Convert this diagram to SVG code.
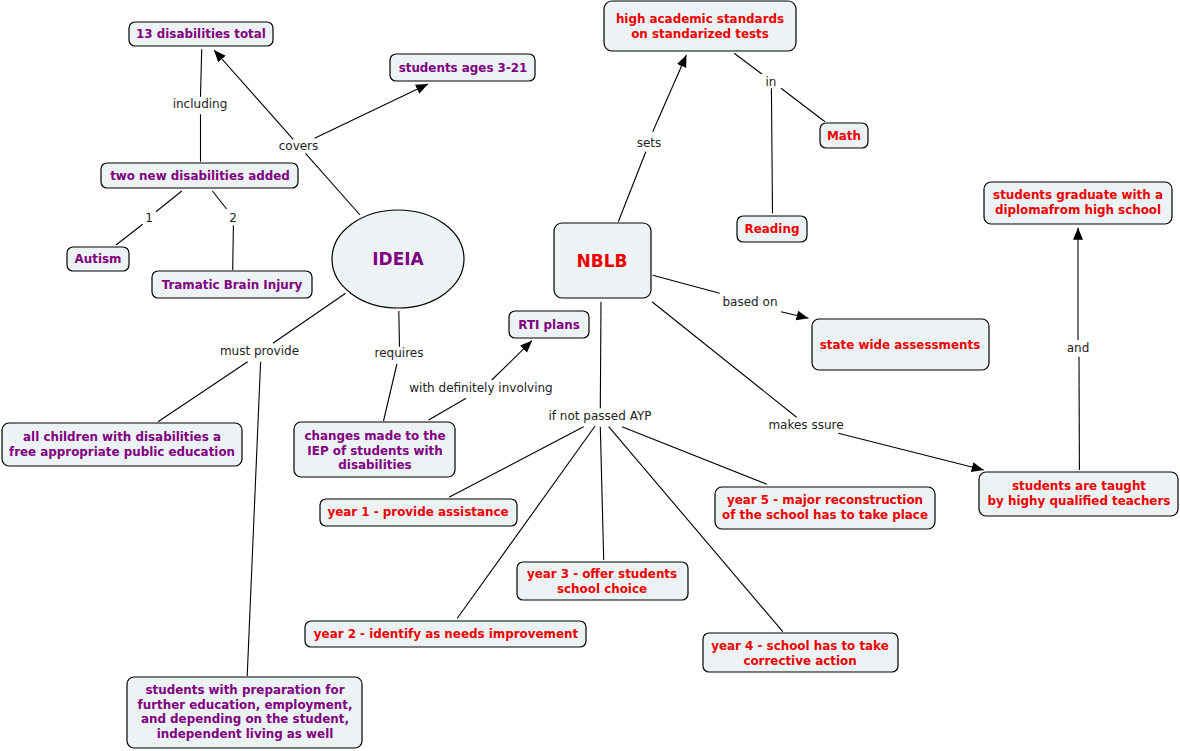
<svg xmlns="http://www.w3.org/2000/svg" width="1180" height="751" viewBox="0 0 1180 751">
<defs>
<style>
.n{fill:#edf3f5;stroke:#000;stroke-width:1.2}
.t{font-family:"DejaVu Sans",Verdana,sans-serif;font-weight:bold;font-size:11.9px;text-anchor:middle;dominant-baseline:central}
.p{fill:#800080}
.r{fill:#ee0000}
.big{font-size:17px}
.l{font-family:"DejaVu Sans",Verdana,sans-serif;font-size:12px;fill:#222;text-anchor:middle;dominant-baseline:central}
.c line{stroke:#000;stroke-width:1.1}
.a{marker-end:url(#arr)}
</style>
<marker id="arr" markerUnits="userSpaceOnUse" markerWidth="13" markerHeight="11" refX="12" refY="5" orient="auto">
<path d="M0,0 L12,5 L0,10 z" fill="#000"/>
</marker>
</defs>
<rect width="1180" height="751" fill="#fff"/>
<g id="connectors" class="c">
<line x1="360" y1="215" x2="305.5" y2="153.3"/>
<line class="a" x1="293.2" y1="139.3" x2="214" y2="50"/>
<line class="a" x1="314.6" y1="138.3" x2="428" y2="84"/>
<line x1="201.7" y1="49.3" x2="200.5" y2="96.7"/>
<line x1="200.5" y1="114.3" x2="200.5" y2="161.7"/>
<line x1="181.8" y1="191" x2="156" y2="211.7"/>
<line x1="142.7" y1="224.3" x2="116" y2="245"/>
<line x1="212.4" y1="191" x2="226.6" y2="209"/>
<line x1="233.4" y1="225.3" x2="232.7" y2="270"/>
<line x1="618.3" y1="221.7" x2="645.8" y2="151.7"/>
<line class="a" x1="652.7" y1="131.7" x2="686.4" y2="55"/>
<line x1="734.2" y1="53.3" x2="761.8" y2="74"/>
<line x1="781" y1="88.3" x2="825" y2="121.7"/>
<line x1="771.4" y1="88.3" x2="772.5" y2="213.3"/>
<line x1="652.7" y1="275.3" x2="719.7" y2="293.3"/>
<line class="a" x1="781" y1="311.7" x2="808.5" y2="318.3"/>
<line x1="652" y1="301.7" x2="796.6" y2="417.3"/>
<line class="a" x1="838.3" y1="433.3" x2="983.7" y2="470"/>
<line x1="1079.4" y1="470" x2="1079" y2="356.7"/>
<line class="a" x1="1078" y1="340" x2="1078" y2="227.7"/>
<line x1="601" y1="301.7" x2="600.3" y2="408.3"/>
<line x1="622" y1="426.7" x2="766.8" y2="484.3"/>
<line x1="608.7" y1="426.7" x2="782.8" y2="631.7"/>
<line x1="600.3" y1="426.7" x2="603.7" y2="560"/>
<line x1="583.6" y1="426.7" x2="449" y2="497.3"/>
<line x1="595.1" y1="426" x2="457.3" y2="618.3"/>
<line x1="345.6" y1="293.3" x2="272.9" y2="343.3"/>
<line x1="247.6" y1="361.7" x2="158" y2="421.7"/>
<line x1="260.6" y1="361.7" x2="247.2" y2="676"/>
<line x1="398.8" y1="311" x2="399.5" y2="346.7"/>
<line x1="396.9" y1="364" x2="383.5" y2="421"/>
<line x1="428.6" y1="420" x2="466.1" y2="398.3"/>
<line class="a" x1="491.8" y1="380" x2="532" y2="340.7"/>
<text class="l" x="200" y="104">including</text>
<text class="l" x="298.5" y="145.7">covers</text>
<text class="l" x="149" y="217.7">1</text>
<text class="l" x="233" y="217.7">2</text>
<text class="l" x="649" y="143.3">sets</text>
<text class="l" x="771" y="81.7">in</text>
<text class="l" x="750" y="302">based on</text>
<text class="l" x="806" y="425">makes ssure</text>
<text class="l" x="1078" y="348.3">and</text>
<text class="l" x="600" y="416">if not passed AYP</text>
<text class="l" x="259.5" y="351">must provide</text>
<text class="l" x="399" y="353.3">requires</text>
<text class="l" x="481" y="388.3">with definitely involving</text>
</g>
<g id="n13"><rect class="n" x="129" y="22" width="144" height="24" rx="6"/><text class="t p" x="201" y="34">13 disabilities total</text></g>
<g id="ages"><rect class="n" x="390" y="54" width="145" height="27" rx="6"/><text class="t p" x="463" y="67.5">students ages 3-21</text></g>
<g id="twonew"><rect class="n" x="101" y="163" width="197" height="25" rx="6"/><text class="t p" x="200" y="176">two new disabilities added</text></g>
<g id="autism"><rect class="n" x="67" y="247" width="62" height="24" rx="6"/><text class="t p" x="98" y="259">Autism</text></g>
<g id="tbi"><rect class="n" x="152" y="271" width="160" height="27" rx="6"/><text class="t p" x="232" y="285">Tramatic Brain Injury</text></g>
<g id="ideia"><ellipse class="n" cx="398" cy="259" rx="66" ry="49"/><text class="t p big" x="398" y="259">IDEIA</text></g>
<g id="nblb"><rect class="n" x="554" y="223" width="97" height="75" rx="8"/><text class="t r big" x="602" y="261">NBLB</text></g>
<g id="high"><rect class="n" x="604" y="1" width="192" height="50" rx="8"/><text class="t r" x="700" y="19">high academic standards</text><text class="t r" x="700" y="33.7">on standarized tests</text></g>
<g id="math"><rect class="n" x="820" y="123" width="48" height="25" rx="6"/><text class="t r" x="844" y="136">Math</text></g>
<g id="reading"><rect class="n" x="737" y="216" width="70" height="26" rx="6"/><text class="t r" x="772" y="229">Reading</text></g>
<g id="graduate"><rect class="n" x="984" y="182" width="188" height="42" rx="7"/><text class="t r" x="1078" y="195">students graduate with a</text><text class="t r" x="1078" y="209.7">diplomafrom high school</text></g>
<g id="state"><rect class="n" x="812" y="319" width="177" height="51" rx="7"/><text class="t r" x="900" y="345">state wide assessments</text></g>
<g id="taught"><rect class="n" x="979" y="472" width="199" height="44" rx="7"/><text class="t r" x="1079" y="486">students are taught</text><text class="t r" x="1079" y="500.7">by highy qualified teachers</text></g>
<g id="rti"><rect class="n" x="509" y="311" width="80" height="27" rx="6"/><text class="t p" x="549" y="324.5">RTI plans</text></g>
<g id="changes"><rect class="n" x="294" y="422" width="161" height="55" rx="7"/><text class="t p" x="375" y="436">changes made to the</text><text class="t p" x="375" y="450.7">IEP of students with</text><text class="t p" x="375" y="465">disabilities</text></g>
<g id="allchildren"><rect class="n" x="2" y="423" width="240" height="43" rx="7"/><text class="t p" x="122" y="437">all children with disabilities a</text><text class="t p" x="122" y="451.7">free appropriate public education</text></g>
<g id="prep"><rect class="n" x="127" y="677" width="235" height="71" rx="7"/><text class="t p" x="245" y="690">students with preparation for</text><text class="t p" x="245" y="704.7">further education, employment,</text><text class="t p" x="245" y="719.3">and depending on the student,</text><text class="t p" x="245" y="734">independent living as well</text></g>
<g id="year1"><rect class="n" x="320" y="499" width="197" height="27" rx="6"/><text class="t r" x="418" y="512">year 1 - provide assistance</text></g>
<g id="year2"><rect class="n" x="305" y="621" width="281" height="26" rx="6"/><text class="t r" x="446" y="633.5">year 2 - identify as needs improvement</text></g>
<g id="year3"><rect class="n" x="517" y="562" width="171" height="38" rx="6"/><text class="t r" x="602" y="574.3">year 3 - offer students</text><text class="t r" x="602" y="588.7">school choice</text></g>
<g id="year4"><rect class="n" x="703" y="633" width="195" height="39" rx="6"/><text class="t r" x="800" y="646">year 4 - school has to take</text><text class="t r" x="800" y="660.7">corrective action</text></g>
<g id="year5"><rect class="n" x="715" y="487" width="220" height="42" rx="7"/><text class="t r" x="825" y="500">year 5 - major reconstruction</text><text class="t r" x="825" y="514.7">of the school has to take place</text></g>
</svg>
